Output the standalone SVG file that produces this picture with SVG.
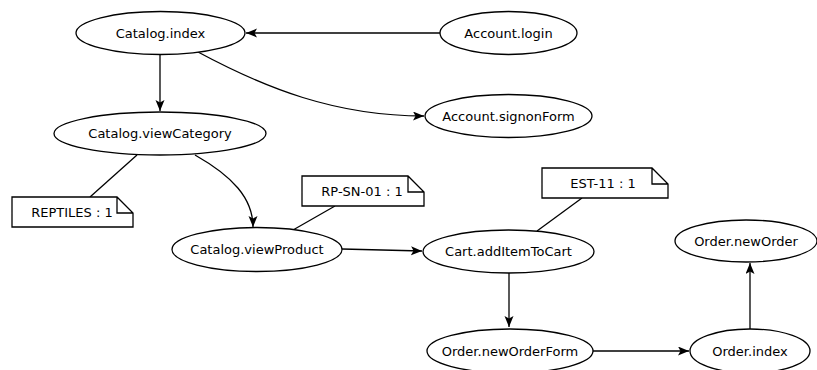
<svg xmlns="http://www.w3.org/2000/svg" width="817" height="370" viewBox="0 0 817 370">
<style>
.n ellipse{fill:#fff;stroke:#000;stroke-width:1.3}
.note path{fill:#fff;stroke:#000;stroke-width:1.3}
text{font-family:"DejaVu Sans",sans-serif;font-size:13px;fill:#000;text-anchor:middle;dominant-baseline:central}
.e path,.e line{fill:none;stroke:#000;stroke-width:1.3}
</style>
<defs>
<marker id="a" markerWidth="12" markerHeight="10" refX="11" refY="4.5" orient="auto" markerUnits="userSpaceOnUse">
<path d="M0,0 L11,4.5 L0,9 L2.5,4.5 z" fill="#000"/>
</marker>
</defs>
<rect width="817" height="370" fill="#fff"/>
<g id="edges" class="e">
<line x1="440" y1="33" x2="246" y2="33" marker-end="url(#a)"/>
<line x1="160" y1="54" x2="160" y2="111" marker-end="url(#a)"/>
<path d="M198,52 C265,88 335,116 424,116" marker-end="url(#a)"/>
<path d="M195,155 C232,176 253,198 253,227" marker-end="url(#a)"/>
<line x1="342" y1="249" x2="422" y2="251" marker-end="url(#a)"/>
<line x1="509" y1="273" x2="509" y2="327" marker-end="url(#a)"/>
<line x1="593" y1="351" x2="689" y2="351" marker-end="url(#a)"/>
<line x1="750" y1="329" x2="750" y2="263" marker-end="url(#a)"/>
<line x1="90" y1="197" x2="137" y2="155"/>
<line x1="335" y1="206" x2="293" y2="230"/>
<line x1="582" y1="198" x2="537" y2="231"/>
</g>
<g id="catalog-index" class="n"><ellipse cx="160.5" cy="33" rx="84.5" ry="21.5"/><text x="160.5" y="33">Catalog.index</text></g>
<g id="account-login" class="n"><ellipse cx="508.5" cy="33" rx="68.5" ry="21.5"/><text x="508.5" y="33">Account.login</text></g>
<g id="account-signonForm" class="n"><ellipse cx="508.5" cy="116" rx="83.5" ry="21.5"/><text x="508.5" y="116">Account.signonForm</text></g>
<g id="catalog-viewCategory" class="n"><ellipse cx="160" cy="133.5" rx="106" ry="21.5"/><text x="160" y="133.5">Catalog.viewCategory</text></g>
<g id="catalog-viewProduct" class="n"><ellipse cx="257" cy="249.5" rx="85" ry="22"/><text x="257" y="249.5">Catalog.viewProduct</text></g>
<g id="cart-addItemToCart" class="n"><ellipse cx="508.5" cy="251.5" rx="85.5" ry="21.5"/><text x="508.5" y="251.5">Cart.addItemToCart</text></g>
<g id="order-newOrderForm" class="n"><ellipse cx="510" cy="351" rx="83" ry="22"/><text x="510" y="351">Order.newOrderForm</text></g>
<g id="order-index" class="n"><ellipse cx="750" cy="351" rx="60" ry="22"/><text x="750" y="351">Order.index</text></g>
<g id="order-newOrder" class="n"><ellipse cx="746" cy="241" rx="71" ry="21"/><text x="746" y="241">Order.newOrder</text></g>
<g id="note-reptiles" class="note"><path d="M12,197 H117 L133,213 V227 H12 Z M117,197 V213 H133"/><text x="72" y="212">REPTILES : 1</text></g>
<g id="note-rpsn01" class="note"><path d="M302,176 H408 L424,192 V206 H302 Z M408,176 V192 H424"/><text x="362" y="191">RP-SN-01 : 1</text></g>
<g id="note-est11" class="note"><path d="M542,168 H652 L668,184 V198 H542 Z M652,168 V184 H668"/><text x="603" y="183">EST-11 : 1</text></g>
</svg>
